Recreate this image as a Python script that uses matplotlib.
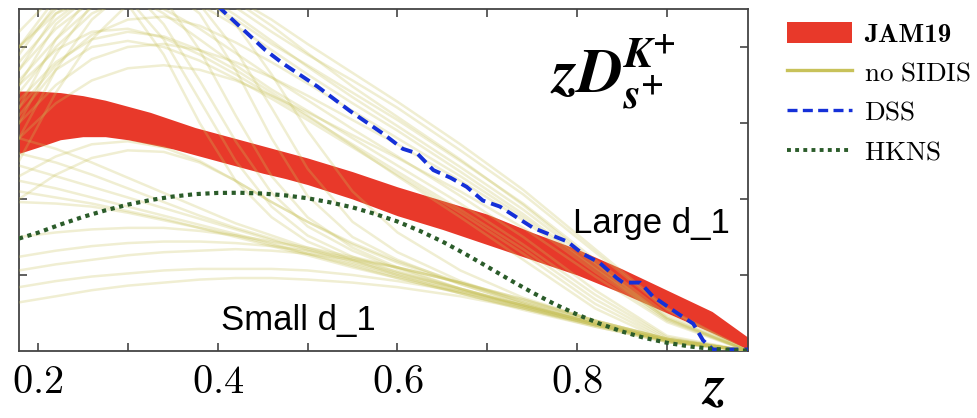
import matplotlib
matplotlib.use("Agg")
import matplotlib.pyplot as plt
from matplotlib.patches import Patch
from matplotlib.lines import Line2D

plt.rcParams["mathtext.fontset"] = "cm"

# ---- JAM19 uncertainty band for zD_{s+}^{K+} ----
z_band = [0.179, 0.20, 0.225, 0.25, 0.275, 0.30, 0.325, 0.35, 0.375, 0.40,
          0.425, 0.45, 0.475, 0.50, 0.55, 0.60, 0.65, 0.70, 0.75, 0.80,
          0.85, 0.90, 0.95, 0.99]
jam_hi = [0.171, 0.171, 0.170, 0.168, 0.165, 0.161, 0.157, 0.152, 0.147, 0.143,
          0.139, 0.135, 0.131, 0.127, 0.118, 0.108, 0.099, 0.090, 0.078, 0.067,
          0.054, 0.040, 0.026, 0.009]
jam_lo = [0.130, 0.134, 0.139, 0.141, 0.141, 0.139, 0.136, 0.133, 0.129, 0.125,
          0.121, 0.117, 0.1135, 0.1095, 0.100, 0.089, 0.080, 0.070, 0.060, 0.050,
          0.038, 0.025, 0.012, 0.001]

# ---- DSS ----
z_dss = [0.400, 0.453, 0.473, 0.511, 0.547, 0.584, 0.606, 0.622, 0.640, 0.659,
         0.677, 0.695, 0.714, 0.751, 0.789, 0.806, 0.825, 0.844, 0.851, 0.870,
         0.884, 0.911, 0.929, 0.940, 0.951, 0.990]
dss = [0.227, 0.198, 0.189, 0.174, 0.158, 0.143, 0.133, 0.130, 0.119, 0.114,
       0.108, 0.099, 0.095, 0.081, 0.072, 0.064, 0.058, 0.048, 0.045, 0.045,
       0.036, 0.025, 0.018, 0.007, 0.001, 0.001]

# ---- HKNS ----
z_hkns = [0.179, 0.200, 0.225, 0.250, 0.275, 0.300, 0.325, 0.350, 0.375, 0.400,
          0.425, 0.450, 0.475, 0.500, 0.525, 0.550, 0.575, 0.600, 0.625, 0.650,
          0.675, 0.700, 0.725, 0.750, 0.775, 0.800, 0.825, 0.850, 0.875, 0.900,
          0.925, 0.950, 0.975, 0.990]
hkns = [0.0740, 0.0778, 0.0832, 0.0882, 0.0925, 0.0963, 0.0993, 0.1016, 0.1032, 0.1040,
        0.1041, 0.1036, 0.1024, 0.1005, 0.0978, 0.0945, 0.0902, 0.0852, 0.0790, 0.0720,
        0.0640, 0.0555, 0.0468, 0.0385, 0.0308, 0.0240, 0.0180, 0.0128, 0.0086, 0.0054,
        0.0030, 0.0014, 0.0005, 0.0002]

# ---- "no SIDIS" replicas, sampled on a common z grid ----
z_rep = [0.179, 0.22, 0.26, 0.30, 0.34, 0.38, 0.42, 0.46, 0.50, 0.55,
         0.60, 0.67, 0.74, 0.82, 0.90, 0.99]

rep_steep = [
    [0.175, 0.215, 0.235, 0.232, 0.205, 0.165, 0.125, 0.095, 0.076, 0.062, 0.052, 0.040, 0.029, 0.017, 0.007, 0.000],
    [0.150, 0.195, 0.228, 0.242, 0.232, 0.198, 0.155, 0.115, 0.088, 0.068, 0.055, 0.041, 0.030, 0.018, 0.007, 0.000],
    [0.185, 0.222, 0.238, 0.228, 0.195, 0.150, 0.112, 0.088, 0.072, 0.060, 0.050, 0.038, 0.027, 0.016, 0.006, 0.000],
    [0.140, 0.185, 0.218, 0.238, 0.240, 0.222, 0.185, 0.140, 0.102, 0.075, 0.060, 0.044, 0.031, 0.018, 0.007, 0.000],
    [0.160, 0.205, 0.235, 0.248, 0.245, 0.228, 0.198, 0.160, 0.120, 0.085, 0.065, 0.046, 0.032, 0.019, 0.008, 0.000],
    [0.125, 0.170, 0.205, 0.228, 0.238, 0.235, 0.215, 0.182, 0.145, 0.105, 0.078, 0.053, 0.035, 0.020, 0.008, 0.000],
    [0.200, 0.232, 0.245, 0.240, 0.215, 0.178, 0.138, 0.104, 0.082, 0.066, 0.054, 0.041, 0.029, 0.017, 0.007, 0.000],
]

rep_upper = [
    [0.185, 0.212, 0.230, 0.240, 0.240, 0.232, 0.218, 0.202, 0.188, 0.170, 0.152, 0.125, 0.097, 0.060, 0.024, 0.000],
    [0.170, 0.200, 0.222, 0.233, 0.235, 0.228, 0.214, 0.198, 0.182, 0.163, 0.145, 0.118, 0.090, 0.055, 0.021, 0.000],
    [0.200, 0.225, 0.240, 0.248, 0.248, 0.240, 0.226, 0.210, 0.195, 0.178, 0.160, 0.132, 0.103, 0.065, 0.027, 0.000],
    [0.160, 0.188, 0.208, 0.218, 0.220, 0.214, 0.203, 0.190, 0.176, 0.158, 0.140, 0.115, 0.088, 0.054, 0.021, 0.000],
    [0.210, 0.235, 0.250, 0.255, 0.252, 0.244, 0.232, 0.218, 0.202, 0.183, 0.164, 0.136, 0.106, 0.067, 0.028, 0.000],
    [0.178, 0.205, 0.226, 0.238, 0.243, 0.240, 0.230, 0.214, 0.196, 0.174, 0.154, 0.126, 0.096, 0.058, 0.022, 0.000],
    [0.190, 0.218, 0.236, 0.244, 0.244, 0.236, 0.221, 0.204, 0.187, 0.167, 0.148, 0.121, 0.093, 0.057, 0.022, 0.000],
    [0.150, 0.175, 0.192, 0.200, 0.202, 0.198, 0.190, 0.180, 0.168, 0.152, 0.136, 0.112, 0.086, 0.052, 0.020, 0.000],
    [0.140, 0.163, 0.178, 0.186, 0.188, 0.185, 0.178, 0.168, 0.157, 0.142, 0.127, 0.105, 0.081, 0.049, 0.019, 0.000],
]

rep_mid = [
    [0.200, 0.222, 0.232, 0.232, 0.225, 0.212, 0.196, 0.180, 0.165, 0.146, 0.128, 0.102, 0.075, 0.040, 0.010, 0.000],
    [0.175, 0.198, 0.210, 0.212, 0.206, 0.195, 0.182, 0.168, 0.154, 0.136, 0.118, 0.093, 0.067, 0.034, 0.008, 0.000],
    [0.165, 0.190, 0.205, 0.210, 0.207, 0.198, 0.185, 0.170, 0.155, 0.135, 0.115, 0.088, 0.060, 0.028, 0.006, 0.000],
    [0.195, 0.228, 0.240, 0.236, 0.222, 0.205, 0.188, 0.172, 0.158, 0.140, 0.122, 0.097, 0.070, 0.037, 0.009, 0.000],
    [0.155, 0.185, 0.200, 0.204, 0.200, 0.191, 0.179, 0.166, 0.152, 0.134, 0.116, 0.091, 0.064, 0.031, 0.007, 0.000],
]

rep_lower = [
    [0.122, 0.115, 0.108, 0.101, 0.094, 0.087, 0.080, 0.073, 0.066, 0.058, 0.050, 0.040, 0.030, 0.018, 0.007, 0.000],
    [0.112, 0.107, 0.101, 0.095, 0.089, 0.083, 0.077, 0.071, 0.064, 0.057, 0.049, 0.039, 0.029, 0.017, 0.007, 0.000],
    [0.105, 0.101, 0.097, 0.092, 0.087, 0.081, 0.075, 0.069, 0.063, 0.055, 0.048, 0.038, 0.028, 0.017, 0.006, 0.000],
    [0.130, 0.124, 0.116, 0.107, 0.098, 0.089, 0.081, 0.074, 0.067, 0.059, 0.051, 0.041, 0.030, 0.018, 0.007, 0.000],
    [0.098, 0.097, 0.095, 0.091, 0.086, 0.081, 0.076, 0.070, 0.064, 0.056, 0.048, 0.038, 0.028, 0.016, 0.006, 0.000],
    [0.140, 0.133, 0.124, 0.114, 0.104, 0.094, 0.084, 0.076, 0.068, 0.060, 0.052, 0.041, 0.030, 0.018, 0.007, 0.000],
    [0.115, 0.128, 0.136, 0.138, 0.134, 0.125, 0.112, 0.098, 0.085, 0.071, 0.059, 0.045, 0.032, 0.019, 0.007, 0.000],
    [0.100, 0.116, 0.127, 0.132, 0.131, 0.124, 0.112, 0.098, 0.085, 0.070, 0.058, 0.044, 0.031, 0.018, 0.007, 0.000],
]

rep_floor = [
    [0.053, 0.057, 0.060, 0.063, 0.065, 0.066, 0.067, 0.066, 0.064, 0.060, 0.055, 0.045, 0.034, 0.020, 0.008, 0.000],
    [0.042, 0.046, 0.049, 0.051, 0.053, 0.054, 0.054, 0.054, 0.053, 0.050, 0.046, 0.039, 0.030, 0.018, 0.007, 0.000],
    [0.032, 0.036, 0.040, 0.043, 0.045, 0.047, 0.048, 0.048, 0.047, 0.045, 0.042, 0.036, 0.028, 0.017, 0.007, 0.000],
    [0.062, 0.066, 0.069, 0.071, 0.072, 0.072, 0.071, 0.069, 0.066, 0.061, 0.055, 0.045, 0.034, 0.020, 0.008, 0.000],
    [0.075, 0.078, 0.080, 0.081, 0.081, 0.079, 0.076, 0.072, 0.068, 0.062, 0.055, 0.045, 0.033, 0.020, 0.008, 0.000],
]

legend_labels = ["JAM19", r"$\mathrm{no\ SIDIS}$", r"$\mathrm{DSS}$", r"$\mathrm{HKNS}$"]
xtick_major = [0.2, 0.4, 0.6, 0.8]
xtick_minor = [0.3, 0.5, 0.7, 0.9]
ytick_major = [0.05, 0.10, 0.15, 0.20]

RED = "#e8392a"
OLIVE = "#c8c25a"
BLUE = "#1530d8"
GREEN = "#2b5c2a"
DSS_DASH = (0, (3.0, 1.6))
HKNS_DOT = (0, (1, 1.1))

fig = plt.figure(figsize=(9.77, 4.18), dpi=100)
ax = fig.add_axes([19 / 977, 67 / 418, 729 / 977, 342 / 418])

ax.fill_between(z_band, jam_lo, jam_hi, color=RED, lw=0, zorder=2)

for group in (rep_floor, rep_lower, rep_mid, rep_upper, rep_steep):
    for curve in group:
        ax.plot(z_rep, curve, color=OLIVE, lw=1.8, alpha=0.27,
                solid_joinstyle="round", zorder=3)

ax.plot(z_dss, dss, color=BLUE, lw=2.8, ls=DSS_DASH, zorder=5)
ax.plot(z_hkns, hkns, color=GREEN, lw=3.0, ls=HKNS_DOT, zorder=5)

ax.set_xlim(0.179, 0.99)
ax.set_ylim(0, 0.225)

ax.set_xticks(xtick_major)
ax.set_xticklabels([rf"${v:.1f}$" for v in xtick_major])
ax.set_xticks(xtick_minor, minor=True)
ax.set_yticks(ytick_major)
ax.tick_params(which="both", direction="in", top=True, right=True,
               length=6, width=1.2, color="#444444")
ax.tick_params(axis="x", which="major", labelsize=29, pad=8)
ax.tick_params(axis="y", labelleft=False)
for sp in ax.spines.values():
    sp.set_color("#444444")
    sp.set_linewidth(1.3)

ax.text(0.795, 0.0776, "Large d_1", fontsize=25, family="Liberation Sans",
        va="baseline", ha="left", zorder=6)
ax.text(0.4037, 0.0138, "Small d_1", fontsize=25, family="Liberation Sans",
        va="baseline", ha="left", zorder=6)

fig.text(550 / 977, (418 - 92) / 418,
         r"$\mathbfit{zD}^{\mathbfit{K}^{\mathbf{+}}}_{\mathbfit{s}^{\mathbf{+}}}$",
         fontsize=45, math_fontfamily="stix", ha="left", va="baseline")
fig.text(713 / 977, 3 / 418, r"$\mathbfit{z}$",
         fontsize=40, math_fontfamily="stix", ha="center", va="bottom")

handles = [
    Patch(facecolor=RED, edgecolor="none"),
    Line2D([], [], color=OLIVE, lw=2.4),
    Line2D([], [], color=BLUE, lw=2.4, ls=DSS_DASH),
    Line2D([], [], color=GREEN, lw=2.8, ls=HKNS_DOT),
]
leg = fig.legend(handles, legend_labels, loc="upper left",
                 bbox_to_anchor=(787 / 977, 1 - 22 / 418), frameon=False,
                 fontsize=19.5, handlelength=2.4, handleheight=0.8, handletextpad=0.45,
                 labelspacing=0.5, borderpad=0, borderaxespad=0)
leg.get_texts()[0].set_fontfamily("cmb10")

fig.savefig("out.png", dpi=100)
